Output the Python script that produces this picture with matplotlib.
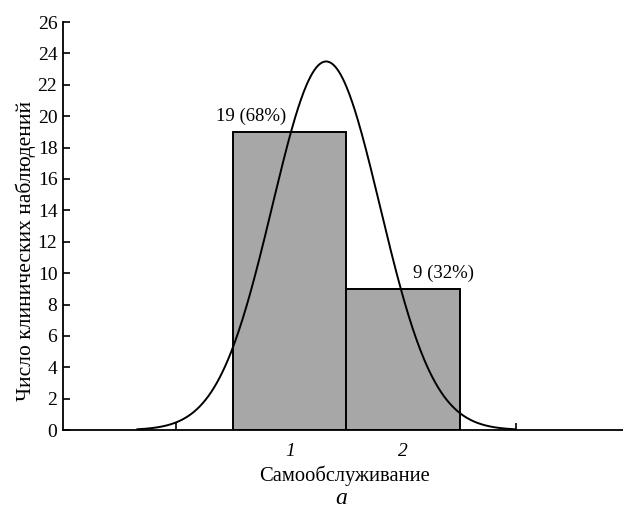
import numpy as np
import matplotlib.pyplot as plt

plt.rcParams['font.family'] = ['Liberation Serif', 'DejaVu Serif']

# частоты по градациям самообслуживания
categories = [1, 2]
counts = [19, 9]
bar_labels = ['19 (68%)', '9 (32%)']
tick_positions = [0, 1, 2, 3]
tick_texts = ['', '1', '2', '']
y_ticks = list(range(0, 27, 2))

fig = plt.figure(figsize=(6.23, 5.12), dpi=100)
ax = fig.add_axes([0.101, 0.160, 0.899, 0.797])

ax.bar(categories, counts, width=1.0, color='#a7a7a7', edgecolor='black',
       linewidth=1.4, zorder=2)

# нормальная кривая по тем же данным
vals = np.repeat(categories, counts)
n = len(vals)
mu = vals.mean()
sd = vals.std(ddof=1)
xs = np.linspace(mu - 3.5 * sd, mu + 3.5 * sd, 400)
ys = n * 1.0 * np.exp(-0.5 * ((xs - mu) / sd) ** 2) / (sd * np.sqrt(2 * np.pi))
ax.plot(xs, ys, color='black', lw=1.4, zorder=3)

# подписи над столбцами
ax.text(0.66, counts[0] + 0.45, bar_labels[0], ha='center', va='bottom', fontsize=13.5)
ax.text(2.36, counts[1] + 0.45, bar_labels[1], ha='center', va='bottom', fontsize=13.5)

ax.set_xlim(-1, 3.94)
ax.set_ylim(0, 26)
ax.set_yticks(y_ticks)
ax.set_yticklabels([str(v) for v in y_ticks], fontsize=14)
ax.set_xticks(tick_positions)
ax.set_xticklabels(tick_texts, fontsize=14, style='italic')
ax.tick_params(axis='both', direction='in', length=5, width=1.2)
ax.tick_params(axis='y', pad=4)
ax.tick_params(axis='x', pad=9)

for s in ['top', 'right']:
    ax.spines[s].set_visible(False)
for s in ['left', 'bottom']:
    ax.spines[s].set_linewidth(1.3)

ax.set_ylabel('Число клинических наблюдений', fontsize=15.5)
ax.yaxis.set_label_coords(-0.048, 0.44)
ax.set_xlabel('Самообслуживание', fontsize=14.8)
ax.xaxis.set_label_coords(0.502, -0.088)

fig.text(0.548, 0.006, 'a', ha='center', va='bottom', fontsize=17, style='italic')

fig.savefig('out.png', dpi=100)
